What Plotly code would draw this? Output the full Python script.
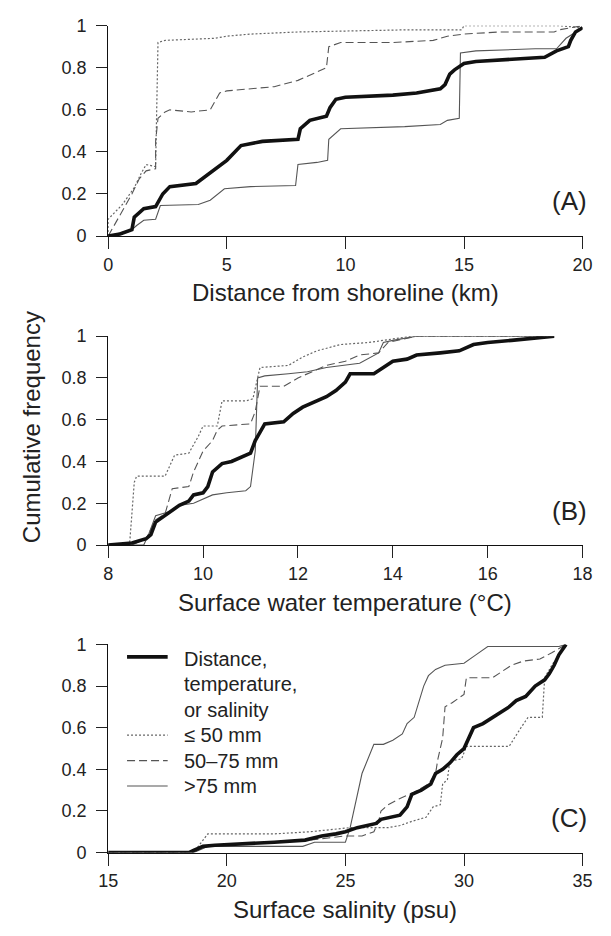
import plotly.graph_objects as go

# ---------------- Data ----------------
# Panel A: distance from shoreline (km)
a_all_x = [0, 0.5, 1.0, 1.1, 1.5, 2.0, 2.3, 2.6, 3.7, 4.3, 5.0, 5.6, 6.5, 8.0, 8.1, 8.5, 9.2, 9.35, 9.6, 10, 12, 13, 14, 14.2, 14.4, 14.6, 15, 15.5, 17, 18.4, 18.9, 19.4, 19.5, 19.7, 20]
a_all_y = [0, 0.01, 0.03, 0.09, 0.13, 0.14, 0.2, 0.235, 0.25, 0.3, 0.36, 0.43, 0.45, 0.46, 0.51, 0.55, 0.57, 0.61, 0.65, 0.66, 0.67, 0.68, 0.70, 0.72, 0.77, 0.79, 0.82, 0.83, 0.84, 0.85, 0.88, 0.90, 0.93, 0.97, 0.99]
a_small_x = [0, 0, 0.6, 1.1, 1.4, 1.6, 2.0, 2.1, 2.4, 4.5, 5.0, 6.0, 8.0, 10.0, 12.5, 14.9, 15.0, 19.0, 20]
a_small_y = [0, 0.08, 0.15, 0.23, 0.30, 0.34, 0.33, 0.92, 0.93, 0.94, 0.95, 0.96, 0.97, 0.975, 0.98, 0.98, 1.0, 1.0, 0.99]
a_mid_x = [0, 0.5, 1.0, 1.3, 1.6, 2.0, 2.0, 2.1, 2.4, 2.6, 3.5, 4.3, 4.7, 5.0, 6.0, 7.0, 8.0, 9.2, 9.3, 9.8, 12.0, 13.7, 14.3, 15.0, 16.5, 18.8, 19.0, 19.5, 20]
a_mid_y = [0, 0.1, 0.2, 0.27, 0.31, 0.32, 0.45, 0.56, 0.59, 0.60, 0.59, 0.60, 0.68, 0.69, 0.70, 0.71, 0.74, 0.80, 0.90, 0.92, 0.92, 0.93, 0.95, 0.96, 0.97, 0.97, 0.98, 0.99, 1.0]
a_large_x = [0, 1.0, 1.2, 1.5, 2.0, 2.2, 3.8, 4.1, 4.3, 4.9, 6.0, 7.9, 8.0, 8.8, 9.25, 9.3, 9.8, 12.5, 14.0, 14.3, 14.8, 14.85, 15.5, 18.0, 18.9, 19.3, 19.6, 20]
a_large_y = [0, 0.03, 0.05, 0.075, 0.08, 0.145, 0.15, 0.16, 0.17, 0.225, 0.235, 0.24, 0.34, 0.35, 0.36, 0.46, 0.51, 0.52, 0.53, 0.55, 0.56, 0.87, 0.88, 0.89, 0.89, 0.94, 0.96, 0.99]

# Panel B: surface water temperature (deg C)
b_all_x = [8, 8.5, 8.8, 8.9, 9.0, 9.2, 9.5, 9.7, 9.8, 10.0, 10.1, 10.2, 10.4, 10.6, 10.8, 11.0, 11.1, 11.3, 11.7, 11.9, 12.1, 12.4, 12.6, 12.8, 13.0, 13.1, 13.6, 13.8, 14.0, 14.3, 14.5, 15.0, 15.4, 15.7, 16.0, 16.5, 17.0, 17.4]
b_all_y = [0, 0.01, 0.03, 0.05, 0.11, 0.14, 0.19, 0.21, 0.24, 0.25, 0.28, 0.35, 0.39, 0.40, 0.42, 0.44, 0.50, 0.58, 0.59, 0.63, 0.66, 0.69, 0.71, 0.74, 0.78, 0.82, 0.82, 0.85, 0.88, 0.89, 0.91, 0.92, 0.93, 0.96, 0.97, 0.98, 0.99, 1.0]
b_small_x = [8, 8.45, 8.55, 8.6, 9.2, 9.4, 9.7, 9.9, 10.0, 10.3, 10.4, 10.9, 11.05, 11.2, 11.8, 12.1, 12.4, 12.9, 13.5, 13.8, 14.0, 14.4, 17.4]
b_small_y = [0, 0, 0.30, 0.33, 0.33, 0.43, 0.44, 0.52, 0.57, 0.57, 0.69, 0.69, 0.70, 0.85, 0.86, 0.90, 0.93, 0.96, 0.97, 0.98, 0.99, 1.0, 1.0]
b_mid_x = [8, 8.5, 8.8, 9.0, 9.2, 9.35, 9.7, 9.8, 10.0, 10.2, 10.3, 10.4, 11.0, 11.1, 11.2, 11.7, 12.0, 12.3, 12.6, 13.0, 13.3, 13.7, 13.9, 14.5, 17.4]
b_mid_y = [0, 0, 0.03, 0.12, 0.15, 0.27, 0.28, 0.35, 0.45, 0.50, 0.55, 0.57, 0.58, 0.64, 0.76, 0.76, 0.80, 0.83, 0.86, 0.88, 0.91, 0.92, 0.97, 1.0, 1.0]
b_large_x = [8, 8.75, 8.85, 9.0, 9.3, 9.5, 9.8, 10.0, 10.2, 10.5, 10.9, 11.0, 11.1, 11.15, 11.3, 11.8, 12.2, 12.6, 13.0, 13.3, 13.7, 13.8, 14.0, 14.3, 14.5, 17.4]
b_large_y = [0, 0, 0.05, 0.14, 0.16, 0.19, 0.20, 0.22, 0.24, 0.25, 0.26, 0.28, 0.45, 0.80, 0.81, 0.82, 0.83, 0.85, 0.86, 0.87, 0.92, 0.97, 0.98, 0.99, 1.0, 1.0]

# Panel C: surface salinity (psu)
c_all_x = [15, 18.4, 18.6, 19.0, 19.5, 20.5, 22.0, 23.3, 24.0, 24.6, 25.0, 25.5, 26.0, 26.3, 26.5, 27.0, 27.3, 27.6, 27.8, 28.2, 28.6, 28.8, 29.1, 29.4, 29.7, 30.0, 30.2, 30.4, 30.8, 31.2, 31.6, 31.9, 32.2, 32.6, 33.0, 33.4, 33.6, 33.8, 34.0, 34.3]
c_all_y = [0, 0, 0.01, 0.03, 0.035, 0.04, 0.05, 0.06, 0.08, 0.09, 0.10, 0.12, 0.13, 0.14, 0.16, 0.17, 0.18, 0.22, 0.28, 0.30, 0.33, 0.38, 0.40, 0.43, 0.47, 0.50, 0.55, 0.60, 0.62, 0.65, 0.68, 0.70, 0.73, 0.75, 0.80, 0.83, 0.86, 0.90, 0.95, 1.0]
c_small_x = [15, 18.6, 19.2, 22.0, 23.5, 24.5, 25.2, 26.8, 27.3, 27.8, 28.4, 28.7, 29.0, 29.1, 29.3, 29.4, 29.9, 30.1, 31.4, 31.9, 32.4, 32.7, 33.3, 33.4, 33.7, 34.0, 34.3]
c_small_y = [0, 0, 0.09, 0.09, 0.10, 0.11, 0.12, 0.12, 0.13, 0.15, 0.17, 0.22, 0.23, 0.33, 0.35, 0.44, 0.45, 0.51, 0.51, 0.51, 0.60, 0.65, 0.65, 0.84, 0.90, 0.95, 1.0]
c_mid_x = [15, 18.5, 19.0, 20.0, 22.0, 23.5, 25.0, 25.7, 26.2, 26.4, 26.5, 26.8, 27.3, 27.9, 28.5, 28.8, 28.9, 29.1, 29.2, 29.5, 30.0, 30.1, 31.2, 31.6, 32.0, 32.5, 33.2, 33.7, 34.3]
c_mid_y = [0, 0, 0.03, 0.04, 0.05, 0.06, 0.08, 0.08, 0.10, 0.15, 0.20, 0.23, 0.26, 0.29, 0.33, 0.38, 0.45, 0.55, 0.70, 0.72, 0.76, 0.84, 0.84, 0.87, 0.90, 0.92, 0.93, 0.96, 1.0]
c_large_x = [15, 18.6, 19.0, 19.2, 23.2, 23.7, 25.0, 25.2, 25.7, 26.2, 26.6, 27.0, 27.4, 27.6, 27.9, 28.1, 28.3, 28.5, 28.8, 29.2, 30.0, 30.5, 31.0, 34.0, 34.3]
c_large_y = [0, 0, 0.02, 0.03, 0.03, 0.05, 0.05, 0.12, 0.38, 0.52, 0.52, 0.54, 0.57, 0.62, 0.65, 0.72, 0.80, 0.85, 0.88, 0.90, 0.91, 0.95, 0.99, 0.99, 1.0]

y_ticks = [0, 0.2, 0.4, 0.6, 0.8, 1]
y_ticktext = ["0", "0.2", "0.4", "0.6", "0.8", "1"]

panel_labels = ["(A)", "(B)", "(C)"]
x_titles = ["Distance from shoreline (km)", "Surface water temperature (\u00b0C)", "Surface salinity (psu)"]
y_title = "Cumulative frequency"
legend_labels = ["Distance,", "temperature,", "or salinity", "\u2264 50 mm", "50\u201375 mm", ">75 mm"]

# ---------------- Layout geometry (px) ----------------
W, H = 611, 936
FONT = "Liberation Sans, Arial, Helvetica, sans-serif"
TXT = "#222222"
x_left, x_right = 101.5, 592
panels_px = [(16, 231), (333.3, 546.7), (648.3, 861)]  # (top, bottom)

def px_x(p):
    return p / W

def px_y(p):
    return 1 - p / H

style_all = dict(color="#111111", width=3.6)
style_small = dict(color="#666666", width=1.2, dash="2px,2px")
style_mid = dict(color="#555555", width=1.1, dash="8px,4px")
style_large = dict(color="#555555", width=1.1)

fig = go.Figure()
series = [
    (a_small_x, a_small_y, a_mid_x, a_mid_y, a_large_x, a_large_y, a_all_x, a_all_y),
    (b_small_x, b_small_y, b_mid_x, b_mid_y, b_large_x, b_large_y, b_all_x, b_all_y),
    (c_small_x, c_small_y, c_mid_x, c_mid_y, c_large_x, c_large_y, c_all_x, c_all_y),
]
for i, s in enumerate(series):
    xa = "x" if i == 0 else f"x{i+1}"
    ya = "y" if i == 0 else f"y{i+1}"
    for (xs, ys, st, nm) in [(s[0], s[1], style_small, "\u2264 50 mm"),
                             (s[2], s[3], style_mid, "50\u201375 mm"),
                             (s[4], s[5], style_large, ">75 mm"),
                             (s[6], s[7], style_all, "All")]:
        fig.add_trace(go.Scatter(x=xs, y=ys, mode="lines", line=st, xaxis=xa, yaxis=ya,
                                 name=nm, showlegend=False, hoverinfo="skip"))

x_ranges = [[0, 20], [8, 18], [15, 35]]
x_dticks = [5, 2, 5]

axis_common = dict(showgrid=False, zeroline=False, showline=True, linecolor="#111111",
                   linewidth=1.3, ticks="outside", tickcolor="#222222", tickwidth=1.1,
                   tickfont=dict(family=FONT, size=18, color=TXT))
layout = dict(width=W, height=H, margin=dict(l=0, r=0, t=0, b=0),
              paper_bgcolor="white", plot_bgcolor="white", showlegend=False,
              font=dict(family=FONT, color=TXT))
for i in range(3):
    top, bot = panels_px[i]
    xk = "xaxis" if i == 0 else f"xaxis{i+1}"
    yk = "yaxis" if i == 0 else f"yaxis{i+1}"
    ya = "y" if i == 0 else f"y{i+1}"
    xa = "x" if i == 0 else f"x{i+1}"
    layout[xk] = dict(axis_common, domain=[px_x(x_left), px_x(x_right)], range=x_ranges[i],
                      dtick=x_dticks[i], tick0=x_ranges[i][0], ticklen=12, anchor=ya,
                      ticklabelstandoff=0)
    layout[yk] = dict(axis_common, domain=[px_y(bot), px_y(top)], range=[0, 1],
                      tickvals=y_ticks, ticktext=y_ticktext, ticklen=11, anchor=xa,
                      ticklabelstandoff=6)
fig.update_layout(**layout)

ann = []
label_y = [195, 512, 826]
title_y = [289, 605, 919]
for i in range(3):
    ann.append(dict(text=panel_labels[i], x=px_x(578), y=px_y(label_y[i]), xref="paper", yref="paper",
                    xanchor="center", yanchor="middle", showarrow=False,
                    font=dict(family=FONT, size=26, color=TXT)))
    ann.append(dict(text=x_titles[i], x=px_x((x_left + x_right) / 2), y=px_y(title_y[i]), xref="paper",
                    yref="paper", xanchor="center", yanchor="middle", showarrow=False,
                    font=dict(family=FONT, size=24, color=TXT)))
ann.append(dict(text=y_title, x=px_x(23), y=px_y(426), xref="paper", yref="paper", textangle=-90,
                xanchor="center", yanchor="middle", showarrow=False,
                font=dict(family=FONT, size=24, color=TXT)))

# legend (panel C)
leg_text_y = [663, 689, 715, 741, 767, 793]
for t, yy in zip(legend_labels, leg_text_y):
    ann.append(dict(text=t, x=px_x(178), y=px_y(yy), xref="paper", yref="paper",
                    xanchor="left", yanchor="middle", showarrow=False,
                    font=dict(family=FONT, size=20, color=TXT)))
fig.update_layout(annotations=ann)

leg_keys = [(661, style_all), (741, style_small), (767, style_mid), (793, style_large)]
for yy, st in leg_keys:
    fig.add_shape(type="line", xref="paper", yref="paper", x0=px_x(121), x1=px_x(163),
                  y0=px_y(yy), y1=px_y(yy), line=st)

fig.write_html("out.html")
